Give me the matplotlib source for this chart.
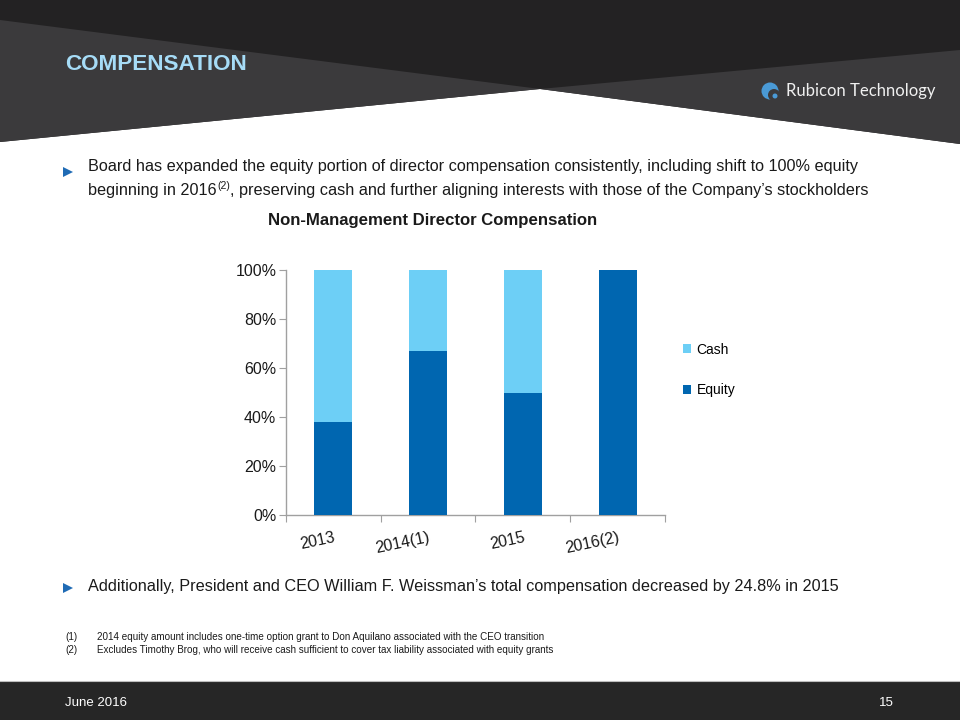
import matplotlib
matplotlib.use("Agg")
import matplotlib.pyplot as plt
from matplotlib.patches import Polygon, Rectangle, Circle
import numpy as np

# data
years = ["2013", "2014(1)", "2015", "2016(2)"]
equity = [0.38, 0.67, 0.50, 1.00]
cash = [0.62, 0.33, 0.50, 0.00]

CASH_C = "#6dcff6"
EQ_C = "#0066b0"
TXT = "#1a1a1a"

plt.rcParams["font.family"] = ["Liberation Sans", "DejaVu Sans"]

fig = plt.figure(figsize=(9.6, 7.2), dpi=100)

# background layer in pixel coords
bg = fig.add_axes([0, 0, 1, 1])
bg.set_xlim(0, 960)
bg.set_ylim(720, 0)
bg.axis("off")

# header shapes
bg.add_patch(Polygon([(0, 0), (960, 0), (960, 144), (540, 89), (0, 142)],
                     closed=True, color="#232223", lw=0))
bg.add_patch(Polygon([(0, 20), (540, 89), (0, 142)], closed=True, color="#3b3a3c", lw=0))
bg.add_patch(Polygon([(960, 50), (540, 89), (960, 144)], closed=True, color="#3b3a3c", lw=0))
bg.text(65, 64, "COMPENSATION", color="#a6dcf7", fontsize=16.2, fontweight="bold",
        va="center", ha="left")

# logo
bg.add_patch(Circle((770, 91), 8.5, color="#4a9ad6", lw=0))
bg.add_patch(Circle((774, 95), 6.0, color="#3b3a3c", lw=0))
bg.add_patch(Circle((775, 96), 2.5, color="#4a9ad6", lw=0))
bg.text(786, 91, "Rubicon Technology", color="#f0f0f0", fontsize=12, va="center",
        ha="left", family=["Lato", "DejaVu Sans"])

# bullets
bg.plot(68, 172, marker=">", ms=7, color="#1f6bb5", mew=0)
bg.text(88, 166, "Board has expanded the equity portion of director compensation consistently, "
        "including shift to 100% equity", fontsize=11.7, va="center", ha="left", color=TXT)

# second line with superscript, pieced together
r = fig.canvas.get_renderer()
inv = bg.transData.inverted()
t1 = bg.text(88, 191, "beginning in 2016", fontsize=11.7, va="center", ha="left", color=TXT)
x1 = inv.transform((t1.get_window_extent(r).x1, 0))[0]
t2 = bg.text(x1 + 0.5, 186, "(2)", fontsize=7.5, va="center", ha="left", color=TXT)
x2 = inv.transform((t2.get_window_extent(r).x1, 0))[0]
bg.text(x2, 191, ", preserving cash and further aligning interests "
        "with those of the Company\u2019s stockholders", fontsize=11.7, va="center", ha="left",
        color=TXT)

bg.plot(68, 588, marker=">", ms=7, color="#1f6bb5", mew=0)
bg.text(88, 586, "Additionally, President and CEO William F. Weissman\u2019s total compensation "
        "decreased by 24.8% in 2015", fontsize=11.7, va="center", ha="left", color=TXT)

# footnotes
bg.text(65, 637, "(1)", fontsize=7.1, va="center", ha="left", color=TXT)
bg.text(97, 637, "2014 equity amount includes one-time option grant to Don Aquilano associated "
        "with the CEO transition", fontsize=7.1, va="center", ha="left", color=TXT)
bg.text(65, 650, "(2)", fontsize=7.1, va="center", ha="left", color=TXT)
bg.text(97, 650, "Excludes Timothy Brog, who will receive cash sufficient to cover tax liability "
        "associated with equity grants", fontsize=7.1, va="center", ha="left", color=TXT)

# footer
bg.add_patch(Rectangle((0, 681), 960, 39, color="#262626", lw=0))
bg.plot([0, 960], [681, 681], color="#bdbdbd", lw=0.8)
bg.text(65, 703, "June 2016", color="white", fontsize=9.5, va="center", ha="left")
bg.text(894, 703, "15", color="white", fontsize=9.5, va="center", ha="right")

# chart title
bg.text(433, 220, "Non-Management Director Compensation", fontsize=12.1,
        fontweight="bold", va="center", ha="center", color=TXT)

# chart
ax = fig.add_axes([286 / 960, 1 - 515 / 720, (665 - 286) / 960, 245 / 720])
ax.patch.set_alpha(0)
x = np.arange(len(years))
ax.bar(x, equity, width=0.4, color=EQ_C, label="Equity", zorder=3)
ax.bar(x, cash, width=0.4, bottom=equity, color=CASH_C, label="Cash", zorder=3)
ax.set_xlim(-0.5, len(years) - 0.5)
ax.set_ylim(0, 1)
yt = np.arange(0, 1.01, 0.2)
ax.set_yticks(yt)
ax.set_yticklabels([f"{int(round(v * 100))}%" for v in yt], fontsize=11.5, color=TXT)
ax.set_xticks(np.arange(-0.5, len(years), 1.0))
ax.set_xticklabels([])
ax.set_xticks(x, minor=True)
ax.set_xticklabels(years, minor=True, rotation=12, fontsize=11.5, color=TXT,
                   ha="right", va="top", rotation_mode="anchor")
ax.tick_params(axis="x", which="minor", length=0, pad=11)
ax.tick_params(axis="x", which="major", length=5, color="#a0a0a0", direction="out")
ax.tick_params(axis="y", length=5, color="#a0a0a0", direction="out", pad=2)
for s in ["top", "right"]:
    ax.spines[s].set_visible(False)
for s in ["left", "bottom"]:
    ax.spines[s].set_color("#a0a0a0")
    ax.spines[s].set_linewidth(1.0)

h, l = ax.get_legend_handles_labels()
fig.legend(h[::-1], l[::-1], loc="center left", bbox_to_anchor=(670 / 960, 1 - 370 / 720),
           frameon=False, fontsize=10, handlelength=0.6, handleheight=0.6,
           labelspacing=1.9, handletextpad=0.4)

fig.savefig("out.png", dpi=100)
